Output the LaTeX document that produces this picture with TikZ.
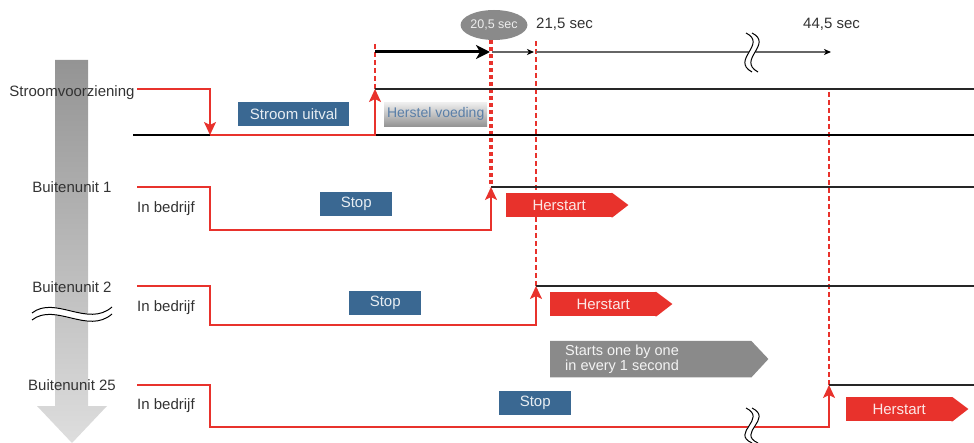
\documentclass[tikz,border=0pt]{standalone}
\usepackage{fontspec}
\setmainfont{Liberation Sans}
\usetikzlibrary{arrows.meta,shapes.geometric}
\definecolor{redl}{HTML}{E8322C}
\definecolor{bluebox}{HTML}{3A6892}
\definecolor{txt}{HTML}{333333}
\definecolor{grayarrow}{HTML}{8A8A8A}
\definecolor{hvtext}{HTML}{5A7FA8}
\begin{document}
\begin{tikzpicture}[x=1pt,y=-1pt,
  lbl/.style={font=\fontsize{15}{17}\selectfont, text=txt, inner sep=0},
  redline/.style={draw=redl, line width=2},
  rtip/.style={-{Stealth[length=13,width=12,inset=3]}},
  blk/.style={draw=black!85, line width=1.6},
  vthin/.style={draw=redl, line width=1.6, dash pattern=on 5 off 3},
  vthick/.style={draw=redl, line width=4, dash pattern=on 4 off 3},
  boxtxt/.style={font=\fontsize{15}{17}\selectfont, inner sep=0, anchor=north west, minimum height=24},
  bbox/.style={boxtxt, fill=bluebox, text=white!88!bluebox},
  hbox/.style={boxtxt, fill=redl, text=white!88!redl, minimum width=106},
  squig/.style={draw=black, line width=1},
  squigbg/.style={draw=white, line width=6},
]
\useasboundingbox (0,0) rectangle (974,443);

% big gray arrow
\shade[top color=black!42, bottom color=black!13]
  (55,60) -- (88,60) -- (88,406) -- (107,406) -- (72,443) -- (37,406) -- (55,406) -- cycle;

% left break squiggle
\draw[squigbg, line width=8] (32,316.5) .. controls (55,298.5) and (88,331.5) .. (112,310.5);
\draw[squig] (32,313) .. controls (55,295) and (88,328) .. (112,307);
\draw[squig] (32,320) .. controls (55,302) and (88,335) .. (112,314);

% row labels
\node[lbl, anchor=base] (sv) at (72,97) {Stroomvoorziening};
\node[lbl, anchor=base] (b1) at (72,192.5) {Buitenunit 1};
\node[lbl, anchor=base] (b2) at (72,292.5) {Buitenunit 2};
\node[lbl, anchor=base] (b25) at (72,390.5) {Buitenunit 25};

\node[lbl, anchor=base west] (ib1) at (137,212.5) {In bedrijf};
\node[lbl, anchor=base west] (ib2) at (137,311.5) {In bedrijf};
\node[lbl, anchor=base west] (ib25) at (137,409) {In bedrijf};

% time labels
\node[ellipse, fill=grayarrow, minimum width=64, minimum height=30, inner sep=0,
      text=white!85!grayarrow, font=\fontsize{12.5}{14}\selectfont] (t20) at (494,25) {20,5 sec};
\node[lbl, anchor=base west] (t21) at (536,29) {21,5 sec};
\node[lbl, anchor=base west] (t44) at (803,29) {44,5 sec};

% coordinates
\coordinate (tA) at (375,52);
\coordinate (tB) at (490,52);
\coordinate (tB2) at (492,52);
\coordinate (tC) at (534,52);
\coordinate (tC2) at (536,52);
\coordinate (tD) at (831,52);

% vertical dashed markers
\draw[vthin] (375,44) -- (375,89);
\draw[vthick] (491,40) -- (491,187);
\draw[vthin] (536,41) -- (536,286);
\draw[vthin] (829,92) -- (829,385);

% timeline
\draw[line width=3, -{Stealth[length=14,width=14,inset=4]}] (tA) -- (tB);
\draw[line width=1.2, black!60, -{Stealth[length=7,width=6,inset=2,black]}] (tB2) -- (tC);
\draw[line width=1.2, black!60, -{Stealth[length=7,width=6,inset=2,black]}] (tC2) -- (tD);
% timeline break
\draw[squigbg] (749,33) .. controls (771,44) and (733,60) .. (755,72);
\draw[squig] (746,33) .. controls (768,44) and (730,60) .. (752,72);
\draw[squig] (752,33) .. controls (774,44) and (736,60) .. (758,72);

% black level lines
\draw[blk] (375,89) -- (974,89);
\draw[line width=1.2] (133,135) -- (974,135);
\draw[blk] (491,187) -- (974,187);
\draw[blk] (536,286) -- (974,286);
\draw[blk] (829,385) -- (974,385);

% red step lines
\draw[redline, rtip] (137,89) -- (210,89) -- (210,135);
\draw[redline, rtip] (210,135) -- (375,135) -- (375,89);
\draw[redline, rtip] (137,187) -- (210,187) -- (210,230) -- (491,230) -- (491,187);
\draw[redline, rtip] (137,286) -- (210,286) -- (210,325) -- (536,325) -- (536,286);
\draw[redline, rtip] (137,385) -- (210,385) -- (210,427) -- (829,427) -- (829,385);
% bottom break
\draw[squigbg] (749,408) .. controls (771,419) and (733,433) .. (755,443);
\draw[squig] (746,408) .. controls (768,419) and (730,433) .. (752,443);
\draw[squig] (752,408) .. controls (774,419) and (736,433) .. (758,443);

% boxes
\node[bbox, minimum width=111] (su) at (238,102) {Stroom uitval};
\node[boxtxt, minimum width=103, top color=black!6, bottom color=black!42, text=hvtext,
      font=\fontsize{14}{16}\selectfont] (hv) at (384,102) {Herstel voeding};

\node[bbox, minimum width=72] (st1) at (320,192) {Stop};
\node[bbox, minimum width=72] (st2) at (349,291) {Stop};
\node[bbox, minimum width=72] (st25) at (499,391) {Stop};

\node[hbox] (h1) at (506,193) {Herstart};
\fill[redl] ([xshift=-1]h1.north east) -- (h1.north east) -- ++(16,12) -- (h1.south east) -- ([xshift=-1]h1.south east) -- cycle;
\node[hbox] (h2) at (550,292) {Herstart};
\fill[redl] ([xshift=-1]h2.north east) -- (h2.north east) -- ++(16,12) -- (h2.south east) -- ([xshift=-1]h2.south east) -- cycle;
\node[hbox] (h25) at (846,397) {Herstart};
\fill[redl] ([xshift=-1]h25.north east) -- (h25.north east) -- ++(16,12) -- (h25.south east) -- ([xshift=-1]h25.south east) -- cycle;

\node[anchor=north west, minimum width=201, minimum height=36, inner sep=0] (sob) at (550,341) {};
\fill[grayarrow] (sob.north west) -- (sob.north east) -- ++(17,18) -- (sob.south east) -- (sob.south west) -- cycle;
\node[anchor=west, align=left, inner sep=0, text=white!90!grayarrow,
      font=\fontsize{14.5}{12.5}\selectfont] (sobt) at (565,359) {Starts one by one\\in every 1 second};
\end{tikzpicture}
\end{document}
